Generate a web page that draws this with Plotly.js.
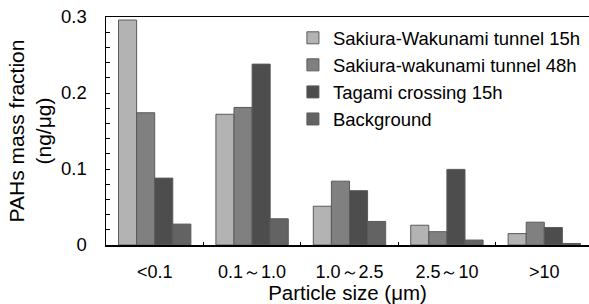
<!DOCTYPE html>
<html>
<head>
<meta charset="utf-8">
<script src="https://cdn.plot.ly/plotly-3.0.1.min.js"></script>
<style>html,body{margin:0;padding:0;overflow:hidden;background:#fff}</style>
</head>
<body>
<div id="chart" style="width:589px;height:304px"></div>
<script>
const categories = ["<0.1", "0.1～1.0", "1.0～2.5", "2.5～10", ">10"];
const seriesNames = ["Sakiura-Wakunami tunnel 15h", "Sakiura-wakunami tunnel 48h", "Tagami crossing 15h", "Background"];
const tunnel15h = [0.296, 0.172, 0.051, 0.026, 0.015];
const tunnel48h = [0.174, 0.181, 0.084, 0.0175, 0.030];
const tagami15h = [0.088, 0.238, 0.0715, 0.0995, 0.023];
const background = [0.0275, 0.0345, 0.031, 0.0065, 0.002];
const seriesValues = [tunnel15h, tunnel48h, tagami15h, background];
const fills = ["#b3b3b3", "#808080", "#4d4d4d", "#636363"];

const FONT = "Liberation Sans, Arial, sans-serif";
const traces = seriesValues.map((vals, i) => ({
  type: "bar",
  name: seriesNames[i],
  x: categories,
  y: vals,
  marker: {color: fills[i], line: {color: "#5a5a5a", width: 1}},
  hoverinfo: "skip"
}));

const layout = {
  width: 589, height: 304,
  margin: {l: 106, r: 0, t: 17, b: 59, autoexpand: false},
  paper_bgcolor: "#fff", plot_bgcolor: "#fff",
  font: {family: FONT, color: "#000", size: 18},
  barmode: "group",
  bargap: 0.257,
  bargroupgap: 0,
  showlegend: true,
  legend: {
    x: 0.387, y: 0.99, xanchor: "left", yanchor: "top",
    bgcolor: "rgba(0,0,0,0)",
    font: {family: FONT, size: 18.5, color: "#000"},
    itemwidth: 30, tracegroupgap: 0
  },
  xaxis: {
    type: "category",
    range: [-0.5, 4.459],
    showline: true, linecolor: "#000", linewidth: 1.5, mirror: true,
    ticks: "inside", ticklen: 3, tickcolor: "#000", tickson: "boundaries",
    ticklabelstandoff: 10,
    showgrid: false, zeroline: false,
    tickfont: {family: FONT, size: 18},
    title: {text: "Particle size (μm)", font: {family: FONT, size: 20.5}, standoff: 2}
  },
  yaxis: {
    range: [0, 0.3],
    dtick: 0.1, tickformat: ".1~f",
    showline: true, linecolor: "#000", linewidth: 1.5,
    ticks: "inside", ticklen: 4, tickcolor: "#000",
    ticklabelstandoff: 14,
    minor: {dtick: 0.02, ticks: "inside", ticklen: 4, tickcolor: "#000", showgrid: false},
    showgrid: false, zeroline: false,
    tickfont: {family: FONT, size: 18.5},
    title: {text: "PAHs mass fraction<br>(ng/μg)", font: {family: FONT, size: 21}, standoff: 3}
  }
};

Plotly.newPlot("chart", traces, layout, {displayModeBar: false, staticPlot: true});
</script>
</body>
</html>
